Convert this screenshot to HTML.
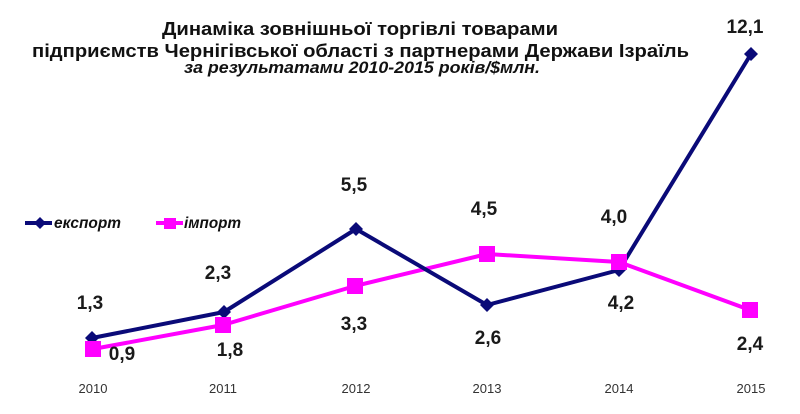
<!DOCTYPE html>
<html>
<head>
<meta charset="utf-8">
<style>
  html, body { margin:0; padding:0; background:#fff; }
  svg { display:block; }
  .t { font-family:"Liberation Sans", Arial, sans-serif; font-weight:bold; fill:#111; }
  .lbl { font-family:"Liberation Sans", Arial, sans-serif; font-weight:bold; font-size:19px; fill:#1a1a1a; text-anchor:middle; }
  .yr { font-family:"Liberation Sans", Arial, sans-serif; font-size:13px; fill:#333; text-anchor:middle; }
  .lg { font-family:"Liberation Sans", Arial, sans-serif; font-weight:bold; font-style:italic; font-size:16px; fill:#111; }
</style>
</head>
<body>
<svg width="800" height="414" viewBox="0 0 800 414" xmlns="http://www.w3.org/2000/svg">
  <rect width="800" height="414" fill="#fff"/>
  <!-- Title -->
  <text class="t" x="162" y="35" font-size="18" textLength="396" lengthAdjust="spacingAndGlyphs">Динаміка зовнішньої торгівлі товарами</text>
  <text class="t" x="32" y="57" font-size="18" textLength="657" lengthAdjust="spacingAndGlyphs">підприємств Чернігівської області з партнерами Держави Ізраїль</text>
  <text class="t" x="184" y="73" font-size="17" font-style="italic" textLength="356" lengthAdjust="spacingAndGlyphs">за результатами 2010-2015 років/$млн.</text>

  <!-- Legend -->
  <line x1="25" y1="223" x2="52" y2="223" stroke="#0a0a78" stroke-width="4"/>
  <polygon points="40,217 46,223 40,229 34,223" fill="#0a0a78"/>
  <text class="lg" x="54" y="228" textLength="67" lengthAdjust="spacingAndGlyphs">експорт</text>
  <line x1="156" y1="223" x2="183" y2="223" stroke="#ff00ff" stroke-width="4"/>
  <rect x="164" y="218" width="12" height="11" fill="#ff00ff"/>
  <text class="lg" x="184" y="228" textLength="57" lengthAdjust="spacingAndGlyphs">імпорт</text>

  <!-- Import series -->
  <polyline points="93,349 223,325 355,286 487,254 619,262 750,310" fill="none" stroke="#ff00ff" stroke-width="4" stroke-linejoin="round"/>
  <!-- Export series -->
  <polyline points="92,338 224,312 356,229 487,305 619,270 751,54" fill="none" stroke="#0a0a78" stroke-width="4" stroke-linejoin="round"/>

  <!-- Export markers -->
  <g fill="#0a0a78">
    <polygon points="92,331 99,338 92,345 85,338"/>
    <polygon points="224,305 231,312 224,319 217,312"/>
    <polygon points="356,222 363,229 356,236 349,229"/>
    <polygon points="487,298 494,305 487,312 480,305"/>
    <polygon points="619,263 626,270 619,277 612,270"/>
    <polygon points="751,47 758,54 751,61 744,54"/>
  </g>
  <!-- Import markers -->
  <g fill="#ff00ff">
    <rect x="85" y="341" width="16" height="16"/>
    <rect x="215" y="317" width="16" height="16"/>
    <rect x="347" y="278" width="16" height="16"/>
    <rect x="479" y="246" width="16" height="16"/>
    <rect x="611" y="254" width="16" height="16"/>
    <rect x="742" y="302" width="16" height="16"/>
  </g>

  <!-- Data labels -->
  <text class="lbl" x="90" y="309">1,3</text>
  <text class="lbl" x="122" y="360">0,9</text>
  <text class="lbl" x="218" y="279">2,3</text>
  <text class="lbl" x="230" y="356">1,8</text>
  <text class="lbl" x="354" y="191">5,5</text>
  <text class="lbl" x="354" y="330">3,3</text>
  <text class="lbl" x="484" y="215">4,5</text>
  <text class="lbl" x="488" y="344">2,6</text>
  <text class="lbl" x="614" y="223">4,0</text>
  <text class="lbl" x="621" y="309">4,2</text>
  <text class="lbl" x="745" y="33">12,1</text>
  <text class="lbl" x="750" y="350">2,4</text>

  <!-- Year labels -->
  <text class="yr" x="93" y="393">2010</text>
  <text class="yr" x="223" y="393">2011</text>
  <text class="yr" x="356" y="393">2012</text>
  <text class="yr" x="487" y="393">2013</text>
  <text class="yr" x="619" y="393">2014</text>
  <text class="yr" x="751" y="393">2015</text>
</svg>
</body>
</html>
